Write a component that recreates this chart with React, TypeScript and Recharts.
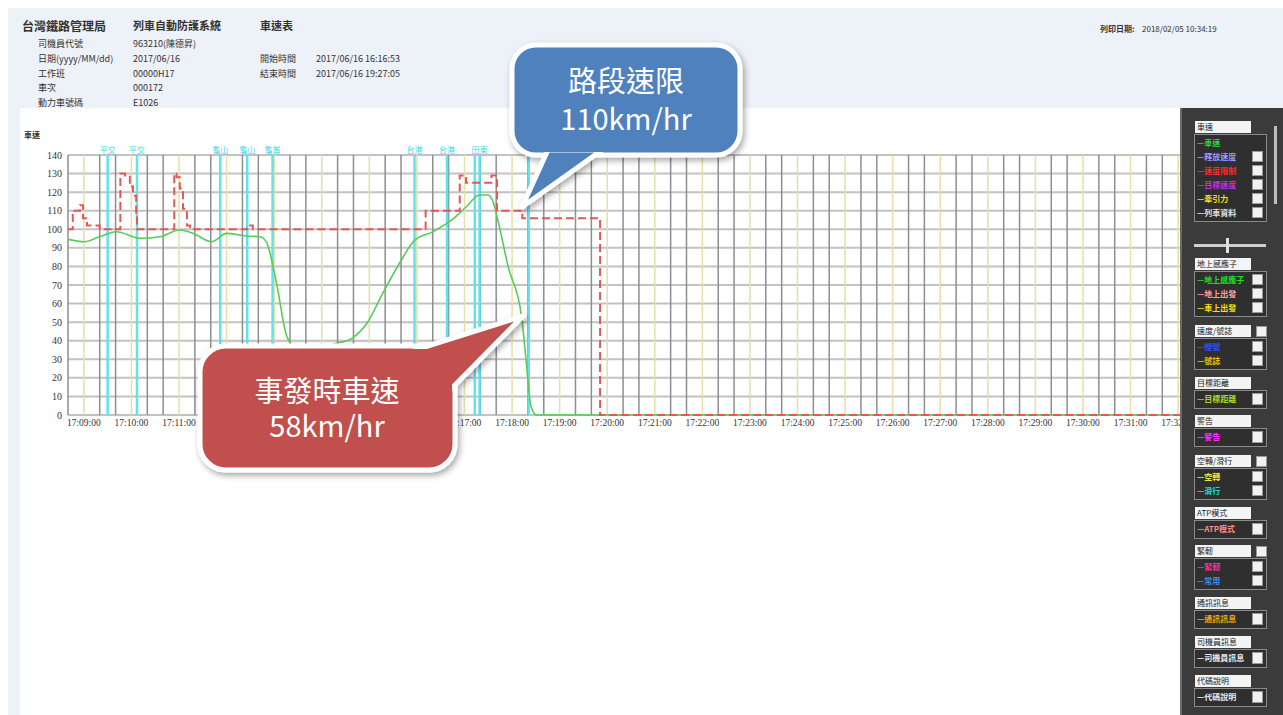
import {
  LineChart,
  Line,
  XAxis,
  YAxis,
  CartesianGrid,
  ReferenceLine,
} from "recharts";

const START = "17:08:40";
const END = "17:32:20";

const speedTimes = [
  "17:08:40", "17:09:01", "17:09:20", "17:09:41", "17:10:11", "17:10:36",
  "17:11:01", "17:11:18", "17:11:41", "17:12:00", "17:12:25", "17:12:42",
  "17:12:50", "17:13:03", "17:13:16", "17:13:26", "17:13:45", "17:14:04",
  "17:14:19", "17:14:38", "17:14:57", "17:15:17", "17:15:38", "17:15:57",
  "17:16:20", "17:16:46", "17:17:02", "17:17:19", "17:17:30", "17:17:36",
  "17:17:44", "17:17:55", "17:18:12", "17:18:18", "17:18:24", "17:18:31",
  "17:32:20",
];
const speedValues = [
  94.6, 93.3, 96, 98.7, 95.1, 96,
  99.6, 97.8, 93.3, 97.8, 96.4, 96,
  93.3, 70.9, 42.2, 37, 36.5, 37,
  38.6, 41.3, 49.4, 65.6, 81.7, 94,
  98.6, 105.7, 112, 118.5, 118.5, 114.9,
  101.4, 80, 53, 28, 4.5, 0,
  0,
];

const limitTimes = [
  "17:08:40", "17:08:46", "17:08:55", "17:08:59", "17:09:04", "17:09:20",
  "17:09:46", "17:09:52", "17:09:58", "17:10:02", "17:10:06", "17:10:07",
  "17:10:54", "17:10:57", "17:11:01", "17:11:05", "17:11:10", "17:11:14",
  "17:12:26", "17:12:33", "17:16:11", "17:16:54", "17:17:02", "17:17:34",
  "17:17:41", "17:18:13", "17:19:51", "17:32:20",
];
const limitValues = [
  100, 110, 113, 106, 102, 100,
  130, 129, 123, 118, 107, 100,
  130, 128, 122, 111, 102, 100,
  102, 100, 110, 129, 125, 129,
  110, 106, 0, 0,
];

const stationTimes = [
  "17:09:30", "17:10:07", "17:11:52", "17:12:26", "17:12:58",
  "17:15:57", "17:16:38", "17:17:13", "17:17:19", "17:18:21",
];
const stationNames = ["平交", "平交", "龜山", "龜山", "龜崙", "台港", "台港", "", "田東", ""];

const xTickLabels = [
  "17:09:00", "17:10:00", "17:11:00", "17:12:00", "17:13:00", "17:14:00",
  "17:15:00", "17:16:00", "17:17:00", "17:18:00", "17:19:00", "17:20:00",
  "17:21:00", "17:22:00", "17:23:00", "17:24:00", "17:25:00", "17:26:00",
  "17:27:00", "17:28:00", "17:29:00", "17:30:00", "17:31:00", "17:32:00",
];
const yTicks = [0, 10, 20, 30, 40, 50, 60, 70, 80, 90, 100, 110, 120, 130, 140];

const clockToSec = (s: string) => {
  const [h, m, sec] = s.split(":").map(Number);
  return h * 3600 + m * 60 + sec;
};
const BASE = clockToSec(START);
const toT = (s: string) => clockToSec(s) - BASE;
const fmt = (t: number) => {
  const a = t + BASE;
  const h = Math.floor(a / 3600);
  const m = Math.floor((a % 3600) / 60);
  const s = a % 60;
  const p = (n: number) => String(n).padStart(2, "0");
  return `${p(h)}:${p(m)}:${p(s)}`;
};

const speedData = speedTimes.map((c, i) => ({ t: toT(c), v: speedValues[i] }));
const limitData = limitTimes.map((c, i) => ({ t: toT(c), v: limitValues[i] }));
const xTicks = xTickLabels.map(toT);
const tMax = toT(END);

// 20 second grid, minute lines are drawn yellow separately
const gridSecs: number[] = [];
for (let t = 0; t <= tMax; t += 20) {
  if (!xTicks.includes(t)) gridSecs.push(t);
}

const headerRows = [
  ["司機員代號", "963210(陳德昇)"],
  ["日期(yyyy/MM/dd)", "2017/06/16"],
  ["工作班", "00000H17"],
  ["車次", "000172"],
  ["動力車號碼", "E1026"],
];

type Row = [string, string, boolean];
const panelGroups: { title: string; top: number; check: boolean; rows: Row[] }[] = [
  {
    title: "車速", top: 121, check: false,
    rows: [
      ["—車速", "#2fd23a", false],
      ["—釋放速度", "#9a9aff", true],
      ["—速度限制", "#ff2a2a", true],
      ["—目標速度", "#c030e0", true],
      ["—牽引力", "#f0e010", true],
      ["—列車資料", "#e0e0e0", true],
    ],
  },
  {
    title: "地上感應子", top: 258, check: false,
    rows: [
      ["—地上感應子", "#20e020", true],
      ["—地上出發", "#ffa0a0", true],
      ["—車上出發", "#f0e010", true],
    ],
  },
  {
    title: "速度/號誌", top: 325, check: true,
    rows: [
      ["—燈號", "#3050ff", true],
      ["—號誌", "#f0c010", true],
    ],
  },
  { title: "目標距離", top: 377, check: false, rows: [["—目標距離", "#a8d820", true]] },
  { title: "警告", top: 415, check: false, rows: [["—警告", "#ff30ff", true]] },
  {
    title: "空轉/滑行", top: 455, check: true,
    rows: [
      ["—空轉", "#f0e840", true],
      ["—滑行", "#20d8d8", true],
    ],
  },
  { title: "ATP模式", top: 507, check: false, rows: [["—ATP模式", "#ff8a8a", true]] },
  {
    title: "緊軔", top: 545, check: true,
    rows: [
      ["—緊軔", "#ff3090", true],
      ["—常用", "#3a8aff", true],
    ],
  },
  { title: "通訊訊息", top: 597, check: false, rows: [["—通訊訊息", "#f0a800", true]] },
  { title: "司機員訊息", top: 636, check: false, rows: [["—司機員訊息", "#e8e8e8", true]] },
  { title: "代碼說明", top: 675, check: false, rows: [["—代碼說明", "#e8e8e8", true]] },
];

const cjk = '"Noto Sans CJK TC", "Noto Sans", sans-serif';
const serif = '"Liberation Serif", "DejaVu Serif", serif';

const Box = ({ left, top, w, h }: { left: number; top: number; w: number; h: number }) => (
  <div
    style={{
      position: "absolute",
      left,
      top,
      width: w,
      height: h,
      background: "#f2f2f2",
      border: "1px solid #999",
      boxSizing: "border-box",
    }}
  />
);

const SidePanel = () => (
  <div
    style={{
      position: "absolute",
      left: 1180,
      top: 108,
      width: 103,
      height: 607,
      background: "#3b3b3b",
      borderLeft: "2px solid #6a6a6a",
      boxSizing: "border-box",
    }}
  >
    <div style={{ position: "absolute", left: 92, top: 18, width: 3, height: 78, background: "#bdbdbd" }} />
    <div style={{ position: "absolute", left: 12, top: 136, width: 72, height: 3, background: "#cfcfcf" }} />
    <div style={{ position: "absolute", left: 44, top: 130, width: 3, height: 15, background: "#e0e0e0" }} />
    {panelGroups.map((g) => {
      const top = g.top - 108;
      const rowH = g.rows.length > 1 ? 14 : 15;
      const boxH = g.rows.length * rowH + 4;
      return (
        <div key={g.title}>
          <div
            style={{
              position: "absolute",
              left: 13,
              top,
              width: 56,
              height: 12,
              background: "#f4f4f4",
              fontFamily: cjk,
              fontSize: 8,
              lineHeight: "12px",
              color: "#222",
              paddingLeft: 2,
              boxSizing: "border-box",
              whiteSpace: "nowrap",
              overflow: "hidden",
            }}
          >
            {g.title}
          </div>
          {g.check && <Box left={74} top={top + 1} w={11} h={11} />}
          <div
            style={{
              position: "absolute",
              left: 12,
              top: top + 13,
              width: 73,
              height: boxH,
              border: "1px solid #8a8a8a",
              background: "#2f2f2f",
              boxSizing: "border-box",
            }}
          />
          {g.rows.map((r, i) => (
            <div key={r[0]}>
              <div
                style={{
                  position: "absolute",
                  left: 15,
                  top: top + 15 + i * rowH,
                  fontFamily: cjk,
                  fontSize: 8,
                  lineHeight: `${rowH - 1}px`,
                  color: r[1],
                  fontWeight: 700,
                  whiteSpace: "nowrap",
                }}
              >
                {r[0]}
              </div>
              {r[2] && <Box left={70} top={top + 16 + i * rowH} w={11} h={rowH - 3} />}
            </div>
          ))}
        </div>
      );
    })}
  </div>
);

const Callouts = () => (
  <svg
    width={1283}
    height={715}
    style={{ position: "absolute", left: 0, top: 0, pointerEvents: "none" }}
  >
    <defs>
      <filter id="sh" x="-20%" y="-20%" width="140%" height="140%">
        <feDropShadow dx="2" dy="3" stdDeviation="3" floodColor="#000" floodOpacity="0.35" />
      </filter>
    </defs>
    <g filter="url(#sh)">
      <rect x={512} y={45} width={228} height={110} rx={24} fill="#4f81bd" stroke="#fff" strokeWidth={5} />
      <polygon points="548,150 522,207 602,150" fill="#4f81bd" stroke="#fff" strokeWidth={5} strokeLinejoin="round" />
      <rect x={515} y={48} width={222} height={104} rx={22} fill="#4f81bd" />
    </g>
    <text x={626} y={92} textAnchor="middle" fill="#fff" fontSize={29} fontFamily={cjk}>
      路段速限
    </text>
    <text x={626} y={130} textAnchor="middle" fill="#fff" fontSize={29} fontFamily={cjk}>
      110km/hr
    </text>
    <g filter="url(#sh)">
      <rect x={200} y={346} width={255} height={124} rx={26} fill="#c0504d" stroke="#fff" strokeWidth={5} />
      <polygon points="415,350 523,316 452,388" fill="#c0504d" stroke="#fff" strokeWidth={5} strokeLinejoin="round" />
      <rect x={203} y={349} width={249} height={118} rx={24} fill="#c0504d" />
    </g>
    <text x={327} y={402} textAnchor="middle" fill="#fff" fontSize={29} fontFamily={cjk}>
      事發時車速
    </text>
    <text x={327} y={437} textAnchor="middle" fill="#fff" fontSize={29} fontFamily={cjk}>
      58km/hr
    </text>
  </svg>
);

const txt = (left: number, top: number, s: string, size = 9, bold = false, family = cjk) => (
  <div
    style={{
      position: "absolute",
      left,
      top,
      fontSize: size,
      fontWeight: bold ? 700 : 400,
      fontFamily: family,
      color: "#333",
      whiteSpace: "nowrap",
      lineHeight: 1,
    }}
  >
    {s}
  </div>
);

const App = () => {
  return (
    <div
      style={{
        position: "absolute",
        left: 0,
        top: 0,
        width: 1283,
        height: 715,
        background: "#fff",
        overflow: "hidden",
      }}
    >
      <div style={{ position: "absolute", left: 8, top: 8, width: 1275, height: 707, background: "#edf1f8" }} />
      <div style={{ position: "absolute", left: 20, top: 108, width: 1160, height: 607, background: "#fff" }} />

      {txt(22, 20, "台灣鐵路管理局", 12, true)}
      {txt(133, 20, "列車自動防護系統", 11, true)}
      {txt(260, 20, "車速表", 11, true)}
      {headerRows.map((r, i) => (
        <div key={r[0]}>
          {txt(38, 39 + i * 14.8, r[0], 9)}
          {txt(133, 39 + i * 14.8, r[1], 9)}
        </div>
      ))}
      {txt(260, 54, "開始時間", 9)}
      {txt(316, 54, "2017/06/16 16:16:53", 9)}
      {txt(260, 69, "結束時間", 9)}
      {txt(316, 69, "2017/06/16 19:27:05", 9)}
      {txt(1100, 25, "列印日期:", 8, true)}
      {txt(1142, 25, "2018/02/05 10:34:19", 8)}
      {txt(24, 131, "車速", 8, true)}

      <div style={{ position: "absolute", left: 0, top: 0 }}>
        <LineChart
          width={1283}
          height={715}
          margin={{ top: 155, right: 89, left: 28, bottom: 270 }}
        >
          <CartesianGrid vertical={false} stroke="#c2c2c2" strokeWidth={2} />
          <XAxis
            type="number"
            dataKey="t"
            domain={[0, tMax]}
            ticks={xTicks}
            tickFormatter={fmt}
            allowDataOverflow
            height={30}
            axisLine={false}
            tickLine={false}
            tickSize={0}
            tickMargin={4}
            interval={0}
            tick={{ fontSize: 9.5, fill: "#333", fontFamily: serif }}
          />
          <YAxis
            type="number"
            domain={[0, 140]}
            ticks={yTicks}
            width={40}
            axisLine={false}
            tickLine={false}
            tickSize={0}
            tickMargin={6}
            interval={0}
            tick={{ fontSize: 10, fill: "#333", fontFamily: serif }}
          />
          {gridSecs.map((t) => (
            <ReferenceLine key={`g${t}`} x={t} stroke="#8e8e8e" strokeWidth={1.5} />
          ))}
          {xTicks.map((t) => (
            <ReferenceLine key={`m${t}`} x={t} stroke="#e6dfa6" strokeWidth={1.5} />
          ))}
          {stationTimes.map((c, i) => (
            <ReferenceLine
              key={`s${c}`}
              x={toT(c)}
              stroke="#5fe3ee"
              strokeWidth={2.5}
              label={
                stationNames[i]
                  ? { value: stationNames[i], position: "top", fill: "#3fd6e6", fontSize: 8, fontFamily: cjk, offset: 2 }
                  : undefined
              }
            />
          ))}
          <Line
            data={speedData}
            dataKey="v"
            type="monotone"
            stroke="#58cc58"
            strokeWidth={1.6}
            dot={false}
            isAnimationActive={false}
          />
          <Line
            data={limitData}
            dataKey="v"
            type="stepAfter"
            stroke="#e2585a"
            strokeWidth={2}
            strokeDasharray="8 4"
            dot={false}
            isAnimationActive={false}
          />
        </LineChart>
      </div>

      <SidePanel />
      <Callouts />
    </div>
  );
};

export default App;
